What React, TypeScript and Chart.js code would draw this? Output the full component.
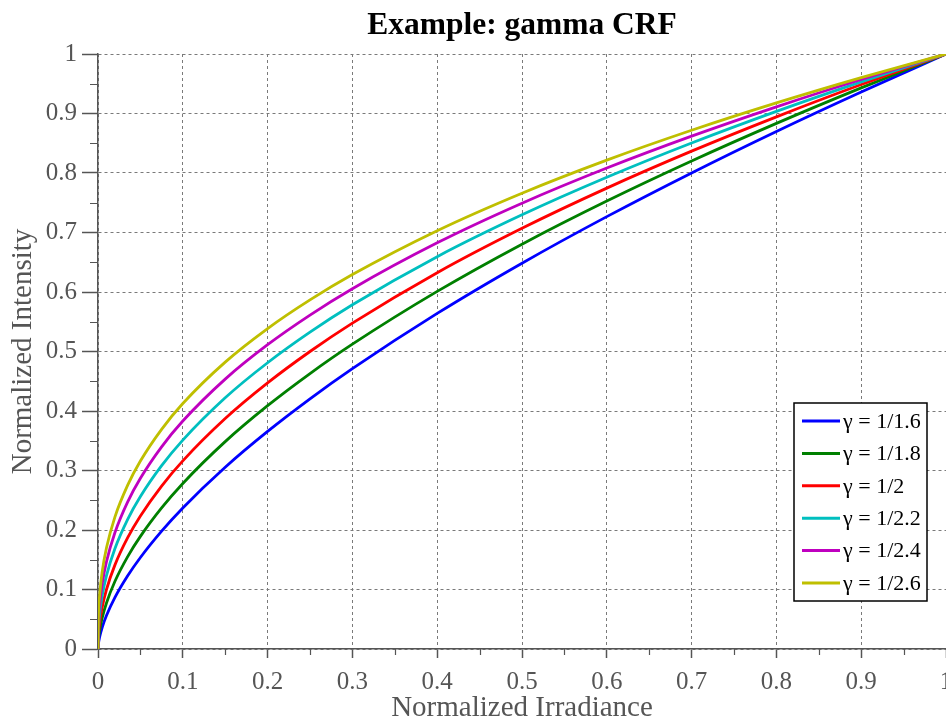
import React, { useEffect, useRef } from "react";
import { Chart, registerables } from "chart.js";

Chart.register(...registerables);

const X_VALUES = [0, 0.0005, 0.002, 0.005, 0.01, 0.02, 0.035, 0.05, 0.075, 0.1, 0.15, 0.2, 0.25, 0.3, 0.4, 0.5, 0.6, 0.7, 0.8, 0.9, 1];

const GAMMA_1_6 = [0, 0.0087, 0.0206, 0.0365, 0.0562, 0.0867, 0.123, 0.1538, 0.1981, 0.2371, 0.3055, 0.3657, 0.4205, 0.4712, 0.564, 0.6484, 0.7267, 0.8002, 0.8699, 0.9362, 1];
const GAMMA_1_8 = [0, 0.0147, 0.0317, 0.0527, 0.0774, 0.1138, 0.1553, 0.1893, 0.2371, 0.2782, 0.3485, 0.4089, 0.4629, 0.5123, 0.601, 0.6804, 0.7529, 0.8202, 0.8834, 0.9431, 1];
const GAMMA_2 = [0, 0.0224, 0.0447, 0.0707, 0.1, 0.1414, 0.1871, 0.2236, 0.2739, 0.3162, 0.3873, 0.4472, 0.5, 0.5477, 0.6325, 0.7071, 0.7746, 0.8367, 0.8944, 0.9487, 1];
const GAMMA_2_2 = [0, 0.0316, 0.0593, 0.09, 0.1233, 0.1689, 0.2179, 0.2562, 0.3081, 0.3511, 0.4222, 0.4811, 0.5325, 0.5785, 0.6594, 0.7297, 0.7928, 0.8504, 0.9036, 0.9532, 1];
const GAMMA_2_4 = [0, 0.0421, 0.0751, 0.11, 0.1468, 0.1959, 0.2474, 0.287, 0.3398, 0.3831, 0.4536, 0.5114, 0.5612, 0.6055, 0.6826, 0.7492, 0.8083, 0.8619, 0.9112, 0.9571, 1];
const GAMMA_2_6 = [0, 0.0538, 0.0916, 0.1303, 0.1701, 0.2221, 0.2754, 0.3159, 0.3692, 0.4125, 0.4821, 0.5385, 0.5867, 0.6293, 0.703, 0.766, 0.8216, 0.8718, 0.9178, 0.9603, 1];

const SERIES_LABELS = ["γ = 1/1.6", "γ = 1/1.8", "γ = 1/2", "γ = 1/2.2", "γ = 1/2.4", "γ = 1/2.6"];
const SERIES_VALUES = [GAMMA_1_6, GAMMA_1_8, GAMMA_2, GAMMA_2_2, GAMMA_2_4, GAMMA_2_6];
const SERIES_COLORS = ["#0000ff", "#008000", "#ff0000", "#00bfbf", "#bf00bf", "#bfbf00"];

const MINOR_TICKS = [0.05, 0.15, 0.25, 0.35, 0.45, 0.55, 0.65, 0.75, 0.85, 0.95];

const TITLE = "Example: gamma CRF";
const X_TITLE = "Normalized Irradiance";
const Y_TITLE = "Normalized Intensity";

const FONT = "'Liberation Serif', 'Times New Roman', serif";
const AXIS_COLOR = "#555555";
const GRID_COLOR = "#7a7a7a";

const fmtTick = (v: any) => String(Math.round(Number(v) * 10) / 10);

const minorTicksPlugin = {
  id: "minorTicks",
  afterDraw(chart: any) {
    const ctx = chart.ctx;
    const xs = chart.scales.x;
    const ys = chart.scales.y;
    ctx.save();
    ctx.strokeStyle = AXIS_COLOR;
    ctx.lineWidth = 1.2;
    ctx.beginPath();
    for (const v of MINOR_TICKS) {
      const px = Math.round(xs.getPixelForValue(v)) + 0.5;
      ctx.moveTo(px, xs.top);
      ctx.lineTo(px, xs.top + 6);
      const py = Math.round(ys.getPixelForValue(v)) + 0.5;
      ctx.moveTo(ys.right, py);
      ctx.lineTo(ys.right - 8, py);
    }
    ctx.stroke();
    ctx.restore();
  },
};

const boxLegendPlugin = {
  id: "boxLegend",
  afterDraw(chart: any) {
    const ctx = chart.ctx;
    const area = chart.chartArea;
    const left = area.right - 152;
    const top = area.bottom - 246;
    const w = 133;
    const h = 198;
    ctx.save();
    ctx.fillStyle = "#ffffff";
    ctx.fillRect(left, top, w, h);
    ctx.strokeStyle = "#000000";
    ctx.lineWidth = 1.5;
    ctx.strokeRect(left, top, w, h);
    ctx.font = `22px ${FONT}`;
    ctx.textBaseline = "middle";
    ctx.textAlign = "left";
    chart.data.datasets.forEach((ds: any, i: number) => {
      const y = top + 18 + i * 32.4;
      ctx.strokeStyle = ds.borderColor;
      ctx.lineWidth = 3;
      ctx.beginPath();
      ctx.moveTo(left + 8, y);
      ctx.lineTo(left + 46, y);
      ctx.stroke();
      ctx.fillStyle = "#000000";
      ctx.fillText(ds.label, left + 49, y + 1);
    });
    ctx.restore();
  },
};

export default function App() {
  const canvasRef = useRef<HTMLCanvasElement | null>(null);

  useEffect(() => {
    if (!canvasRef.current) return;
    const datasets = SERIES_VALUES.map((vals, i) => ({
      label: SERIES_LABELS[i],
      data: X_VALUES.map((x, j) => ({ x, y: vals[j] })),
      borderColor: SERIES_COLORS[i],
      backgroundColor: SERIES_COLORS[i],
      borderWidth: 2.8,
      pointRadius: 0,
      fill: false,
      cubicInterpolationMode: "monotone" as const,
      order: SERIES_VALUES.length - i,
    }));

    const chart = new Chart(canvasRef.current, {
      type: "line",
      data: { datasets },
      plugins: [minorTicksPlugin, boxLegendPlugin],
      options: {
        animation: false,
        responsive: false,
        devicePixelRatio: 1,
        layout: { autoPadding: false, padding: 0 },
        plugins: {
          legend: { display: false },
          tooltip: { enabled: false },
          title: {
            display: true,
            text: TITLE,
            fullSize: false,
            color: "#000000",
            font: { family: FONT, size: 31.5, weight: "bold", lineHeight: 1.2 },
            padding: { top: 7, bottom: 9.2 },
          },
        },
        scales: {
          x: {
            type: "linear",
            min: 0,
            max: 1,
            ticks: {
              stepSize: 0.1,
              color: AXIS_COLOR,
              font: { family: FONT, size: 25 },
              padding: 9,
              maxRotation: 0,
              autoSkip: false,
              callback: fmtTick,
            },
            grid: {
              color: GRID_COLOR,
              lineWidth: 1,
              tickLength: 9,
              tickColor: AXIS_COLOR,
              tickWidth: 1.5,
            },
            border: { display: true, color: AXIS_COLOR, width: 1.5, dash: [3, 3] },
            title: {
              display: true,
              text: X_TITLE,
              color: AXIS_COLOR,
              font: { family: FONT, size: 29, lineHeight: 0.8 },
              padding: 0,
            },
            afterFit: (s: any) => {
              s.height = 71;
              s.paddingLeft = 0;
              s.paddingRight = 0;
            },
          },
          y: {
            type: "linear",
            min: 0,
            max: 1,
            ticks: {
              stepSize: 0.1,
              color: AXIS_COLOR,
              font: { family: FONT, size: 25 },
              padding: 5,
              callback: fmtTick,
            },
            grid: {
              color: GRID_COLOR,
              lineWidth: 1,
              tickLength: 16,
              tickColor: AXIS_COLOR,
              tickWidth: 1.5,
            },
            border: { display: true, color: AXIS_COLOR, width: 1.5, dash: [3, 3] },
            title: {
              display: true,
              text: Y_TITLE,
              color: AXIS_COLOR,
              font: { family: FONT, size: 29, lineHeight: 1 },
              padding: { top: 9, bottom: 0 },
            },
            afterFit: (s: any) => {
              s.width = 98;
              s.paddingTop = 0;
              s.paddingBottom = 0;
            },
          },
        },
      },
    } as any);

    return () => chart.destroy();
  }, []);

  return (
    <div style={{ position: "absolute", left: 0, top: 0, width: 946, height: 720, background: "#ffffff" }}>
      <canvas ref={canvasRef} width={946} height={720} style={{ display: "block" }} />
    </div>
  );
}
